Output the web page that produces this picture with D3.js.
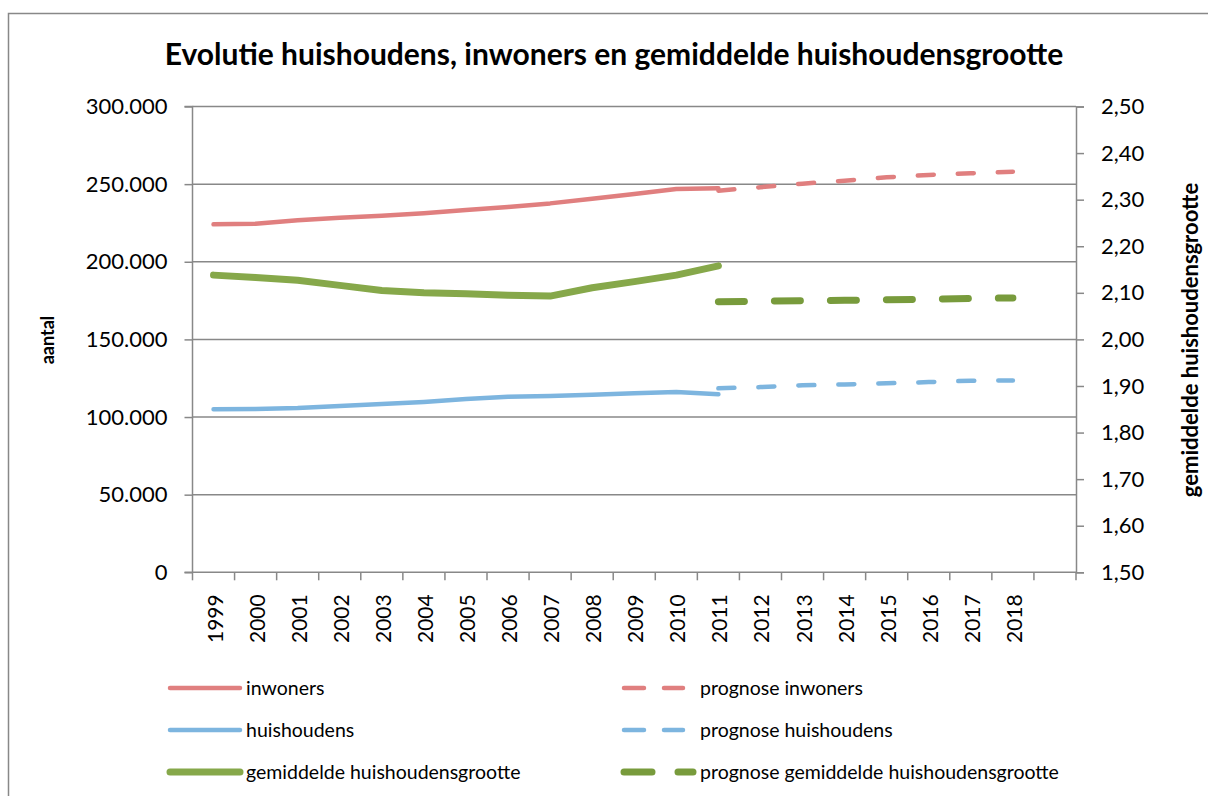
<!DOCTYPE html>
<html>
<head>
<meta charset="utf-8">
<script src="https://cdn.jsdelivr.net/npm/d3@7"></script>
<style>
  body { margin: 0; background: #fff; }
  text { font-family: Lato, "Open Sans", sans-serif; fill: #000; }
</style>
</head>
<body>
<div id="chart"></div>
<script>
// categories (last slot is empty in the original)
const years = ["1999","2000","2001","2002","2003","2004","2005","2006","2007","2008",
               "2009","2010","2011","2012","2013","2014","2015","2016","2017","2018",""];

const inwoners = [224100,224500,226700,228400,229700,231200,233300,235300,237600,240600,243600,246800,247300];
const huishoudens = [105000,105200,105800,107100,108400,109700,111600,113100,113500,114400,115300,116100,114600];
const gemGrootte = [2.138,2.133,2.127,2.116,2.105,2.100,2.098,2.095,2.093,2.111,2.124,2.138,2.158];

// prognoses 2011-2018
const progYears = ["2011","2012","2013","2014","2015","2016","2017","2018"];
const progInwoners = [245800,248000,250300,252200,254400,255900,257000,258000];
const progHuishoudens = [118500,119300,120400,121000,121700,122500,123400,123600];
const progGrootte = [2.081,2.082,2.083,2.084,2.085,2.086,2.088,2.089];

const leftTicks = [0,50000,100000,150000,200000,250000,300000];
const rightTicks = [1.5,1.6,1.7,1.8,1.9,2.0,2.1,2.2,2.3,2.4,2.5];

const width = 1208, height = 796;
const margin = { top: 106.5, left: 192.5, right: 1208 - 1076, bottom: 796 - 572.3 };
const gridColor = "#888888";

const svg = d3.select("#chart").append("svg")
    .attr("width", width)
    .attr("height", height);

// outer frame
svg.append("rect")
    .attr("x", 8.5).attr("y", 13.5)
    .attr("width", 1240).attr("height", 820)
    .attr("fill", "none")
    .attr("stroke", gridColor)
    .attr("stroke-width", 1.5);

svg.append("text")
    .attr("x", 614).attr("y", 65)
    .attr("text-anchor", "middle")
    .style("font-size", "30px")
    .style("font-weight", "bold")
    .text("Evolutie huishoudens, inwoners en gemiddelde huishoudensgrootte");

const x = d3.scaleBand()
    .domain(years)
    .range([margin.left, width - margin.right])
    .padding(0);

const yLeft = d3.scaleLinear()
    .domain([0, 300000])
    .range([height - margin.bottom, margin.top]);

const yRight = d3.scaleLinear()
    .domain([1.5, 2.5])
    .range([height - margin.bottom, margin.top]);

const fmtLeft = v => d3.format(",")(v).replace(/,/g, ".");
const fmtRight = v => d3.format(".2f")(v).replace(".", ",");

// gridlines
svg.append("g")
    .selectAll("line")
    .data(leftTicks.slice(1))
    .enter().append("line")
    .attr("x1", x.range()[0]).attr("x2", x.range()[1])
    .attr("y1", d => yLeft(d)).attr("y2", d => yLeft(d))
    .attr("stroke", gridColor)
    .attr("stroke-width", 1.5);

// left axis
const leftAxis = svg.append("g")
    .attr("transform", `translate(${margin.left},0)`)
    .call(d3.axisLeft(yLeft).tickValues(leftTicks).tickFormat(fmtLeft).tickSize(8).tickPadding(17));
leftAxis.selectAll("path, line").attr("stroke", gridColor).attr("stroke-width", 1.5);
leftAxis.selectAll("text").style("font-size", "22px").style("font-family", "Lato, sans-serif");
leftAxis.select(".domain").attr("d", `M-8,${yLeft(300000)}H0V${yLeft(0)}`);

// right axis
const rightAxis = svg.append("g")
    .attr("transform", `translate(${width - margin.right},0)`)
    .call(d3.axisRight(yRight).tickValues(rightTicks).tickFormat(fmtRight).tickSize(8).tickPadding(17));
rightAxis.selectAll("path, line").attr("stroke", gridColor).attr("stroke-width", 1.5);
rightAxis.selectAll("text").style("font-size", "22px").style("font-family", "Lato, sans-serif");

// bottom axis: ticks between categories
const xAxis = svg.append("g")
    .attr("transform", `translate(0,${yLeft(0)})`);
xAxis.append("line")
    .attr("x1", x.range()[0] - 8).attr("x2", x.range()[1])
    .attr("stroke", gridColor).attr("stroke-width", 1.5);
xAxis.selectAll(".tk")
    .data(years.map(d => x(d)).concat([x.range()[1]]))
    .enter().append("line")
    .attr("class", "tk")
    .attr("x1", d => d).attr("x2", d => d)
    .attr("y1", 0).attr("y2", 8)
    .attr("stroke", gridColor).attr("stroke-width", 1.5);
xAxis.selectAll(".lbl")
    .data(years)
    .enter().append("text")
    .attr("class", "lbl")
    .attr("transform", d => `translate(${x(d) + x.bandwidth() / 2 + 9},${22}) rotate(-90)`)
    .attr("text-anchor", "end")
    .style("font-size", "21px")
    .text(d => d);

// axis titles
svg.append("text")
    .attr("transform", "translate(54,340) rotate(-90)")
    .attr("text-anchor", "middle")
    .style("font-size", "18px")
    .style("font-weight", "bold")
    .text("aantal");

svg.append("text")
    .attr("transform", "translate(1198,340) rotate(-90)")
    .attr("text-anchor", "middle")
    .style("font-size", "22px")
    .style("font-weight", "bold")
    .text("gemiddelde huishoudensgrootte");

// series
const cx = d => x(d) + x.bandwidth() / 2;
const series = [
    { years: years, values: inwoners, y: yLeft, color: "#E07F7F", w: 4.5, dash: null },
    { years: years, values: huishoudens, y: yLeft, color: "#7DB5DF", w: 4.5, dash: null },
    { years: years, values: gemGrootte, y: yRight, color: "#86A84A", w: 7, dash: null },
    { years: progYears, values: progInwoners, y: yLeft, color: "#E07F7F", w: 4.5, dash: "16,24" },
    { years: progYears, values: progHuishoudens, y: yLeft, color: "#7DB5DF", w: 4.5, dash: "16,24" },
    { years: progYears, values: progGrootte, y: yRight, color: "#789B3C", w: 7, dash: "26,30" }
];

series.forEach(s => {
    const line = d3.line()
        .x((d, i) => cx(s.years[i]))
        .y(d => s.y(d));
    svg.append("path")
        .datum(s.values)
        .attr("d", line)
        .attr("fill", "none")
        .attr("stroke", s.color)
        .attr("stroke-width", s.w)
        .attr("stroke-linecap", "round")
        .attr("stroke-linejoin", "round")
        .attr("stroke-dasharray", s.dash);
});

// legend
const legendItems = [
    { label: "inwoners", color: "#E07F7F", w: 4.5, dash: null, col: 0, row: 0 },
    { label: "huishoudens", color: "#7DB5DF", w: 4.5, dash: null, col: 0, row: 1 },
    { label: "gemiddelde huishoudensgrootte", color: "#86A84A", w: 7, dash: null, col: 0, row: 2 },
    { label: "prognose inwoners", color: "#E07F7F", w: 4.5, dash: "20,20", col: 1, row: 0 },
    { label: "prognose huishoudens", color: "#7DB5DF", w: 4.5, dash: "20,20", col: 1, row: 1 },
    { label: "prognose gemiddelde huishoudensgrootte", color: "#789B3C", w: 7, dash: "28,26", col: 1, row: 2 }
];
const legend = svg.append("g");
legendItems.forEach(d => {
    const x0 = d.col === 0 ? 170 : 624;
    const x1 = d.col === 0 ? 240 : (d.dash === "28,26" ? 693 : 683);
    const ly = 688 + d.row * 42;
    legend.append("line")
        .attr("x1", x0).attr("x2", x1)
        .attr("y1", ly).attr("y2", ly)
        .attr("stroke", d.color)
        .attr("stroke-width", d.w)
        .attr("stroke-linecap", "round")
        .attr("stroke-dasharray", d.dash);
    legend.append("text")
        .attr("x", d.col === 0 ? 246 : 700)
        .attr("y", ly + 7)
        .style("font-size", "19.5px")
        .text(d.label);
});
</script>
</body>
</html>
